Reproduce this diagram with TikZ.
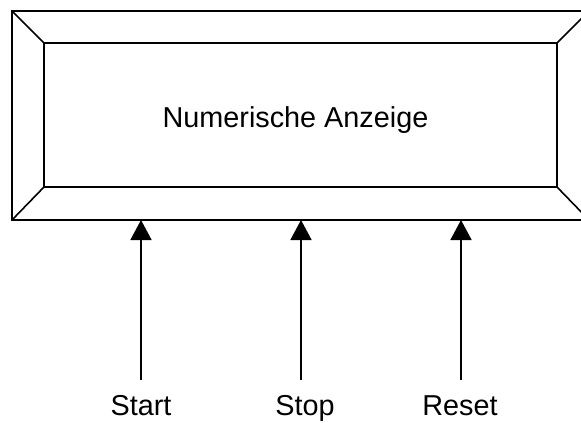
\documentclass[tikz,border=0pt]{standalone}
\usepackage{fontspec}
\setmainfont{Liberation Sans}
\usetikzlibrary{arrows.meta}
\begin{document}
\begin{tikzpicture}[x=1pt,y=-1pt,
  frame/.style={line width=1.6pt,line join=miter},
  label/.style={anchor=base,inner sep=0pt,font=\fontsize{28.8}{34}\selectfont},
  arrowline/.style={line width=1.6pt,-{Triangle[width=21pt,length=20pt]}}]
\useasboundingbox (0,0) rectangle (581,423);
\clip (0,0) rectangle (581,423);
% frame
\coordinate (o1) at (12,11);
\coordinate (o2) at (589,11);
\coordinate (o3) at (589,220);
\coordinate (o4) at (12,220);
\coordinate (i1) at (44,43);
\coordinate (i2) at (557,43);
\coordinate (i3) at (557,187);
\coordinate (i4) at (44,187);
\draw[frame] (o1) -- (o2) -- (o3) -- (o4) -- cycle;
\draw[frame] (i1) -- (i2) -- (i3) -- (i4) -- cycle;
\draw[frame] (o1) -- (i1) (o2) -- (i2) (o3) -- (i3) (o4) -- (i4);
\node[label] (disp) at (295.5,127) {Numerische Anzeige};
% inputs
\node[label] (start) at (141,415) {Start};
\node[label] (stop) at (305,415) {Stop};
\node[label] (reset) at (460,415) {Reset};
\coordinate (s1) at (141,380);
\coordinate (s2) at (301,380);
\coordinate (s3) at (461,380);
\coordinate (t1) at (141,220);
\coordinate (t2) at (301,220);
\coordinate (t3) at (461,220);
\draw[arrowline] (s1) -- (t1);
\draw[arrowline] (s2) -- (t2);
\draw[arrowline] (s3) -- (t3);
\end{tikzpicture}
\end{document}
